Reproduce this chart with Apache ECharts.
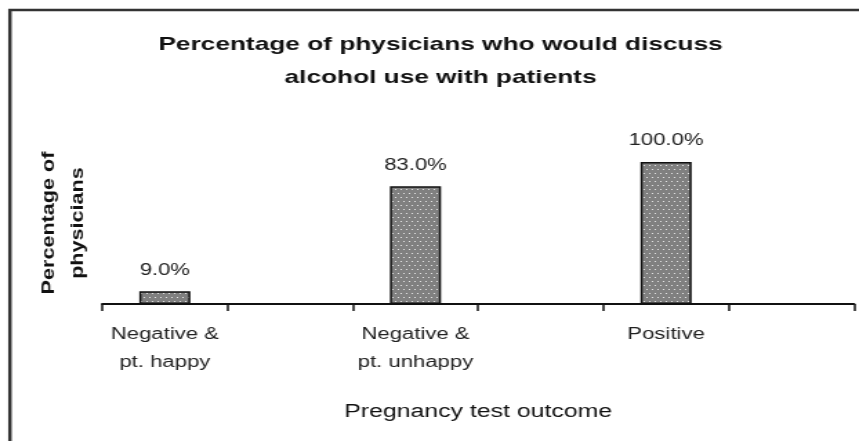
<!DOCTYPE html>
<html>
<head>
<meta charset="utf-8">
<script src="https://cdn.jsdelivr.net/npm/echarts@6/dist/echarts.min.js"></script>
<style>
  html, body { margin: 0; padding: 0; background: #fff; overflow: hidden; }
  /* the source picture is stretched sideways, so the chart is drawn narrow and widened */
  #main { width: 622px; height: 441px; transform: scaleX(1.381); transform-origin: 0 0; }
</style>
</head>
<body>
<div id="main"></div>
<script>
// empty slots keep the extra tick marks between the bars
const categories = ['Negative &\npt. happy', '', 'Negative &\npt. unhappy', '', 'Positive', ''];
const physicianPct = [9.0, null, 83.0, null, 100.0, null];

const titleLines = ['Percentage of physicians who would discuss', 'alcohol use with patients'];
const yTitleLines = ['Percentage of', 'physicians'];
const xTitle = 'Pregnancy test outcome';

const stretch = 1.381;
const font = '"Liberation Sans", Arial, sans-serif';

// grey fill with white dots, like the bars in the picture
function dotPattern() {
  const c = document.createElement('canvas');
  c.width = 4;
  c.height = 8;
  const ctx = c.getContext('2d');
  ctx.fillStyle = '#808080';
  ctx.fillRect(0, 0, 4, 8);
  ctx.fillStyle = '#e6e6e6';
  ctx.fillRect(0, 1, 1, 1);
  ctx.fillRect(2, 5, 1, 1);
  return c;
}

const chart = echarts.init(document.getElementById('main'), null, { renderer: 'canvas' });

const option = {
  animation: false,
  backgroundColor: '#fff',
  graphic: [
    {
      type: 'rect',
      shape: { x: 7.2, y: 10, width: 700, height: 500 },
      style: { fill: 'none', stroke: '#333', lineWidth: 2.5 },
      silent: true
    },
    {
      type: 'text',
      x: 319,
      y: 28,
      style: {
        text: titleLines.join('\n'),
        textAlign: 'center',
        textVerticalAlign: 'top',
        font: 'bold 19px ' + font,
        lineHeight: 33,
        fill: '#111'
      }
    },
    {
      type: 'text',
      x: 46,
      y: 223,
      rotation: Math.PI / 2,
      scaleX: 1.2,
      scaleY: 1 / stretch,
      style: {
        text: yTitleLines.join('\n'),
        textAlign: 'center',
        textVerticalAlign: 'middle',
        font: 'bold 18px ' + font,
        lineHeight: 29,
        fill: '#111'
      }
    }
  ],
  grid: {
    left: 74,
    right: 3.6,
    top: 162,
    bottom: 137,
    containLabel: false,
    outerBoundsMode: 'none'
  },
  xAxis: {
    type: 'category',
    data: categories,
    boundaryGap: true,
    axisLine: { lineStyle: { color: '#111', width: 2 } },
    axisTick: {
      show: true,
      interval: 0,
      length: 7,
      lineStyle: { color: '#111', width: 1.5 }
    },
    axisLabel: {
      interval: 0,
      fontSize: 16,
      lineHeight: 28,
      margin: 17,
      color: '#222',
      fontFamily: font
    },
    name: xTitle,
    nameLocation: 'middle',
    nameGap: 99,
    nameTextStyle: { fontSize: 18, color: '#111', fontFamily: font }
  },
  yAxis: {
    type: 'value',
    min: 0,
    max: 100,
    show: false
  },
  series: [
    {
      type: 'bar',
      data: physicianPct,
      barWidth: 37,
      itemStyle: {
        color: { image: dotPattern(), repeat: 'repeat' },
        borderColor: '#111',
        borderWidth: 1.5
      },
      label: {
        show: true,
        position: 'top',
        distance: 13,
        fontSize: 16,
        color: '#222',
        fontFamily: font,
        formatter: p => p.value.toFixed(1) + '%'
      }
    }
  ]
};

chart.setOption(option);
window.addEventListener('resize', function () {
  chart.resize();
});
</script>
</body>
</html>
